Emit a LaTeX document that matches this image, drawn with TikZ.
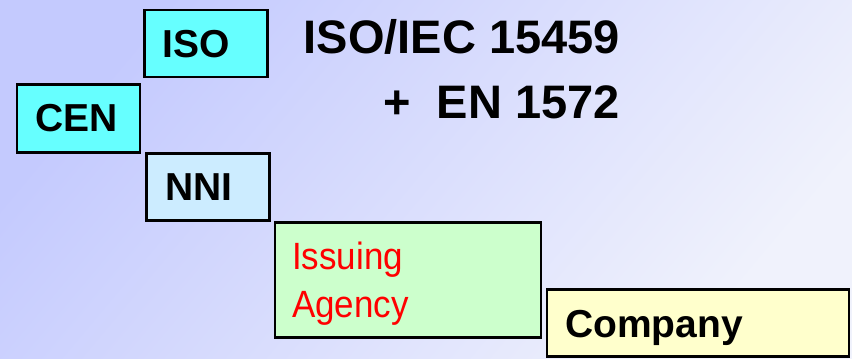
\documentclass[tikz,border=0pt]{standalone}
\usepackage{fontspec}
\setmainfont{Liberation Sans}
\newfontfamily\narrowfont[FakeStretch=0.92]{Liberation Sans}
\definecolor{bgA}{RGB}{196,202,254}
\definecolor{bgC}{RGB}{240,242,252}
\definecolor{cyanbox}{RGB}{102,255,255}
\definecolor{nnibox}{RGB}{204,236,255}
\definecolor{greenbox}{RGB}{204,255,204}
\definecolor{yellowbox}{RGB}{255,255,204}
\begin{document}
\begin{tikzpicture}[x=1pt,y=-1pt,
  box/.style={draw=black,line width=2.6pt,anchor=north west,inner sep=0pt},
  lbl/.style={anchor=base west,inner sep=0pt,font=\fontsize{39}{39}\selectfont\bfseries},
  title/.style={anchor=base east,inner sep=0pt,font=\fontsize{47}{47}\selectfont\bfseries},
  red lbl/.style={anchor=base west,inner sep=0pt,text=red,font=\fontsize{38}{38}\selectfont\narrowfont}]
\shade[left color=bgA,right color=bgC,shading angle=50] (0,0) rectangle (852,359);
\useasboundingbox (0,0) rectangle (852,359);
\node[box,fill=cyanbox,minimum width=123pt,minimum height=67pt] (isobox) at (143,8.5) {};
\node[box,fill=cyanbox,minimum width=123pt,minimum height=68pt] (cenbox) at (15.5,83) {};
\node[box,fill=nnibox,minimum width=123pt,minimum height=67pt] (nnibox) at (145,152) {};
\node[box,fill=greenbox,minimum width=266pt,minimum height=115pt] (agbox) at (273.5,221) {};
\node[box,fill=yellowbox,minimum width=302pt,minimum height=67pt] (cobox) at (545.5,288) {};
\node[lbl] (iso) at (162,57) {ISO};
\node[lbl] (cen) at (35,131) {CEN};
\node[lbl] (nni) at (165,200) {NNI};
\node[red lbl] (issuing) at (292,269) {Issuing};
\node[red lbl] (agency) at (292,317) {Agency};
\node[lbl] (company) at (565,337) {Company};
\node[title] (std1) at (620,53) {ISO/IEC 15459};
\node[title] (std2) at (620,118) {+\ \ EN 1572};
\end{tikzpicture}
\end{document}
